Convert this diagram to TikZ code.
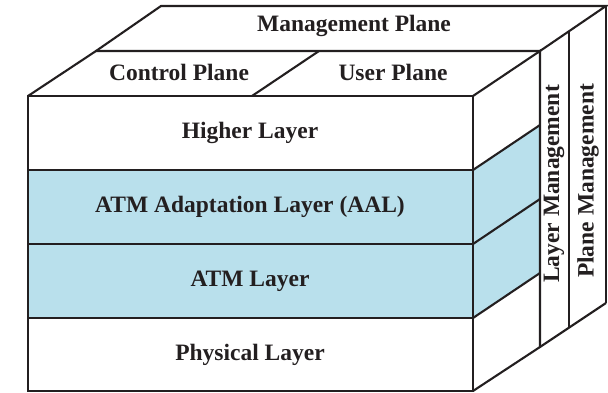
\documentclass[tikz,border=0pt]{standalone}
\usepackage{fontspec}
\setmainfont{Liberation Serif}
\definecolor{aalblue}{RGB}{185,224,236}
\definecolor{ink}{RGB}{35,31,32}
\begin{document}
\begin{tikzpicture}[x=1pt,y=-1pt,line width=2.1pt,line join=miter,
  lbl/.style={font=\fontsize{23.5}{28}\selectfont\bfseries,text=ink,inner sep=0pt},
  edge/.style={draw=ink}]
\useasboundingbox (0,0) rectangle (608,393);
% key corners
\coordinate (FTL) at (28,96);
\coordinate (FTR) at (473,96);
\coordinate (FBL) at (28,391);
\coordinate (FBR) at (473,391);
\coordinate (MTL) at (96,51);
\coordinate (MTR) at (540,51);
\coordinate (MBR) at (540,347);
\coordinate (BTL) at (161,6);
\coordinate (BTR) at (606,6);
\coordinate (BBR) at (606,303);
\coordinate (LMT) at (569,31.2);
\coordinate (LMB) at (569,327.7);
% blue fills
\fill[aalblue] (28,170) rectangle (473,318);
\fill[aalblue] (473,170) -- (540,125) -- (540,273) -- (473,318) -- cycle;
% front face
\draw[edge] (FTL) rectangle (FBR);
\draw[edge] (28,170) -- (473,170);
\draw[edge] (28,244) -- (473,244);
\draw[edge] (28,318) -- (473,318);
% side face
\draw[edge] (FTR) -- (MTR) -- (MBR);
\draw[edge] (FBR) -- (MBR) -- (BBR);
\draw[edge] (473,170) -- (540,125);
\draw[edge] (473,244) -- (540,199);
\draw[edge] (473,318) -- (540,273);
% top planes
\draw[edge] (FTL) -- (MTL) -- (MTR);
\draw[edge] (MTL) -- (BTL) -- (BTR) -- (MTR);
\draw[edge] (BTR) -- (BBR);
\draw[edge] (252,96) -- (319,51);
\draw[edge] (LMT) -- (LMB);
% labels
\node[lbl] (mgmt) at (354,26) {Management Plane};
\node[lbl] (ctrl) at (179,72) {Control Plane};
\node[lbl] (user) at (393,72) {User Plane};
\node[lbl] (higher) at (250,133) {Higher Layer};
\node[lbl] (aal) at (250,207) {ATM Adaptation Layer (AAL)};
\node[lbl] (atm) at (250,281) {ATM Layer};
\node[lbl] (phys) at (250,355) {Physical Layer};
\node[lbl,rotate=90] (lmgmt) at (554,184) {Layer Management};
\node[lbl,rotate=90] (pmgmt) at (588,181) {Plane Management};
\end{tikzpicture}
\end{document}
